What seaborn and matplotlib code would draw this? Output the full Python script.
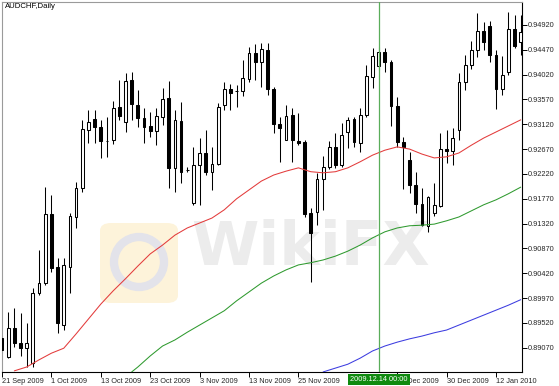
import matplotlib
matplotlib.use("Agg")
import matplotlib.pyplot as plt
import matplotlib.transforms as mtransforms
from matplotlib.patches import FancyBboxPatch, Ellipse
import numpy as np
import pandas as pd
import seaborn as sns

# ---------------- data ----------------
chart_title = "AUDCHF,Daily"

opens = [0.8925, 0.8890, 0.8943, 0.8916, 0.8906, 0.8879, 0.9006, 0.9024, 0.9149, 0.9053,
         0.8948, 0.9053, 0.9144, 0.9197, 0.9302, 0.9322, 0.9307, 0.9282, 0.9284, 0.9343,
         0.9316, 0.9392, 0.9347, 0.9323, 0.9309, 0.9300, 0.9325, 0.9360, 0.9233, 0.9318,
         0.9229, 0.9169, 0.9238, 0.9260, 0.9226, 0.9240, 0.9347, 0.9376, 0.9372, 0.9372,
         0.9394, 0.9441, 0.9425, 0.9447, 0.9376, 0.9313, 0.9284, 0.9329, 0.9282, 0.9280,
         0.9151, 0.9153, 0.9213, 0.9235, 0.9271, 0.9238, 0.9298, 0.9322, 0.9278, 0.9329,
         0.9398, 0.9418, 0.9443, 0.9425, 0.9345, 0.9280, 0.9247, 0.9202, 0.9168, 0.9128,
         0.9151, 0.9164, 0.9267, 0.9264, 0.9302, 0.9389, 0.9420, 0.9447, 0.9481, 0.9490,
         0.9438, 0.9376, 0.9407, 0.9485, 0.9461]
highs = [0.8930, 0.8972, 0.8979, 0.8970, 0.8952, 0.9015, 0.9084, 0.9198, 0.9184, 0.9070,
         0.9070, 0.9151, 0.9207, 0.9320, 0.9338, 0.9338, 0.9320, 0.9325, 0.9354, 0.9392,
         0.9405, 0.9407, 0.9374, 0.9342, 0.9334, 0.9342, 0.9378, 0.9391, 0.9338, 0.9352,
         0.9235, 0.9271, 0.9287, 0.9302, 0.9271, 0.9351, 0.9389, 0.9385, 0.9383, 0.9429,
         0.9452, 0.9458, 0.9459, 0.9459, 0.9380, 0.9325, 0.9347, 0.9342, 0.9333, 0.9284,
         0.9160, 0.9224, 0.9255, 0.9282, 0.9296, 0.9314, 0.9325, 0.9325, 0.9342, 0.9420,
         0.9450, 0.9452, 0.9450, 0.9429, 0.9362, 0.9289, 0.9262, 0.9226, 0.9197, 0.9182,
         0.9206, 0.9296, 0.9302, 0.9305, 0.9405, 0.9438, 0.9463, 0.9514, 0.9497, 0.9499,
         0.9447, 0.9436, 0.9516, 0.9510, 0.9510]
lows = [0.8897, 0.8888, 0.8908, 0.8892, 0.8872, 0.8872, 0.9003, 0.9021, 0.9044, 0.8934,
        0.8939, 0.9006, 0.9124, 0.9189, 0.9278, 0.9278, 0.9251, 0.9253, 0.9276, 0.9320,
        0.9298, 0.9320, 0.9307, 0.9278, 0.9289, 0.9274, 0.9311, 0.9197, 0.9189, 0.9206,
        0.9226, 0.9166, 0.9166, 0.9220, 0.9193, 0.9238, 0.9338, 0.9338, 0.9343, 0.9363,
        0.9389, 0.9392, 0.9380, 0.9365, 0.9296, 0.9244, 0.9283, 0.9244, 0.9274, 0.9144,
        0.9026, 0.9129, 0.9157, 0.9231, 0.9233, 0.9235, 0.9269, 0.9271, 0.9262, 0.9325,
        0.9378, 0.9410, 0.9407, 0.9309, 0.9271, 0.9195, 0.9187, 0.9151, 0.9128, 0.9117,
        0.9146, 0.9162, 0.9242, 0.9238, 0.9284, 0.9374, 0.9412, 0.9434, 0.9447, 0.9425,
        0.9340, 0.9365, 0.9401, 0.9450, 0.9438]
closes = [0.8903, 0.8943, 0.8916, 0.8906, 0.8916, 0.9006, 0.9024, 0.9149, 0.9052, 0.8952,
          0.9057, 0.9146, 0.9197, 0.9304, 0.9316, 0.9307, 0.9282, 0.9282, 0.9342, 0.9327,
          0.9391, 0.9349, 0.9323, 0.9307, 0.9300, 0.9327, 0.9358, 0.9233, 0.9320, 0.9226,
          0.9229, 0.9238, 0.9260, 0.9226, 0.9240, 0.9343, 0.9376, 0.9369, 0.9372, 0.9396,
          0.9441, 0.9425, 0.9449, 0.9376, 0.9313, 0.9305, 0.9327, 0.9284, 0.9278, 0.9149,
          0.9115, 0.9213, 0.9235, 0.9271, 0.9238, 0.9293, 0.9320, 0.9280, 0.9329, 0.9400,
          0.9436, 0.9443, 0.9425, 0.9345, 0.9280, 0.9271, 0.9202, 0.9168, 0.9129, 0.9180,
          0.9166, 0.9267, 0.9264, 0.9287, 0.9389, 0.9420, 0.9447, 0.9481, 0.9461, 0.9438,
          0.9376, 0.9401, 0.9485, 0.9454, 0.9479]

red_ma_bar = list(range(2, 85, 2))
red_ma = [0.8865, 0.8872, 0.8885, 0.8897, 0.8906, 0.8932, 0.8959, 0.8986, 0.9010, 0.9032,
          0.9055, 0.9077, 0.9093, 0.9111, 0.9124, 0.9133, 0.9142, 0.9157, 0.9177, 0.9193,
          0.9209, 0.9220, 0.9227, 0.9233, 0.9226, 0.9224, 0.9226, 0.9233, 0.9244, 0.9256,
          0.9265, 0.9271, 0.9267, 0.9258, 0.9251, 0.9253, 0.9260, 0.9274, 0.9287, 0.9298,
          0.9309, 0.9320]
green_ma_bar = [21] + list(range(22, 85, 2))
green_ma = [0.8863, 0.8872, 0.8892, 0.8910, 0.8921, 0.8935, 0.8948, 0.8961, 0.8974, 0.8992,
            0.9008, 0.9024, 0.9037, 0.9048, 0.9057, 0.9061, 0.9066, 0.9073, 0.9082, 0.9093,
            0.9106, 0.9117, 0.9124, 0.9128, 0.9129, 0.9131, 0.9137, 0.9144, 0.9155, 0.9166,
            0.9175, 0.9186, 0.9198]
blue_ma_bar = list(range(52, 85, 2))
blue_ma = [0.8863, 0.8870, 0.8877, 0.8888, 0.8901, 0.8910, 0.8917, 0.8923, 0.8928, 0.8934,
           0.8939, 0.8948, 0.8957, 0.8966, 0.8975, 0.8984, 0.8994]

date_tick_bars = [0, 8, 16, 24, 32, 40, 48, 64, 72, 80]
date_tick_labels = ["21 Sep 2009", "1 Oct 2009", "13 Oct 2009", "23 Oct 2009", "3 Nov 2009",
                    "13 Nov 2009", "25 Nov 2009", "17 Dec 2009", "30 Dec 2009",
                    "12 Jan 2010"]
price_ticks = [0.89070, 0.89520, 0.89970, 0.90420, 0.90870, 0.91320, 0.91770, 0.92220,
               0.92670, 0.93120, 0.93570, 0.94020, 0.94470, 0.94920]

cursor_bar = 61
cursor_label = "2009.12.14 00:00"
watermark = "WikiFX"

# ---------------- style ----------------
sns.set_style("white")
plt.rcParams["font.family"] = ["Liberation Sans", "DejaVu Sans"]

W, H = 559, 386
fig = plt.figure(figsize=(W / 100, H / 100), dpi=100)
fig.patch.set_facecolor("white")
left_px, right_px, top_px, bot_px = 1.7, 521.7, 1.7, 372.0
ax = fig.add_axes([left_px / W, 1 - bot_px / H, (right_px - left_px) / W, (bot_px - top_px) / H])
ax.set_facecolor("white")

# watermark (behind everything)
logo = FancyBboxPatch((100 / W, 1 - 303 / H), 78 / W, 80 / H,
                      boxstyle="round,pad=0.0,rounding_size=0.02",
                      transform=fig.transFigure, facecolor="#fdf3da", edgecolor="none",
                      zorder=0.2)
ax.add_artist(logo)
ring = Ellipse((139 / W, 1 - 262 / H), 50 / W, 50 / H, transform=fig.transFigure,
               facecolor="none", edgecolor="#e3e3ea", linewidth=6, zorder=0.3)
ax.add_artist(ring)
ax.text(0.555, 0.355, watermark, transform=fig.transFigure, ha="center", va="center",
        fontsize=44, fontweight="bold", family="DejaVu Sans", color="#ececec", zorder=0.4)

n = len(opens)
idx = np.arange(n)
o = np.array(opens); c = np.array(closes); hi = np.array(highs); lo = np.array(lows)
up = c >= o

# wicks
ax.vlines(idx, lo, hi, color="black", linewidth=0.75, zorder=2)
# bodies
body_bottom = np.minimum(o, c)
body_height = np.abs(c - o)
ax.bar(idx[up], body_height[up], bottom=body_bottom[up], width=0.45,
       color="white", edgecolor="black", linewidth=0.75, zorder=3)
ax.bar(idx[~up], body_height[~up], bottom=body_bottom[~up], width=0.45,
       color="black", edgecolor="black", linewidth=0.75, zorder=3)

# moving averages via seaborn
df_red = pd.DataFrame({"bar": red_ma_bar, "ma": red_ma})
df_green = pd.DataFrame({"bar": green_ma_bar, "ma": green_ma})
df_blue = pd.DataFrame({"bar": blue_ma_bar, "ma": blue_ma})
sns.lineplot(data=df_red, x="bar", y="ma", ax=ax, color="#e33b3b", linewidth=0.75, zorder=4)
sns.lineplot(data=df_green, x="bar", y="ma", ax=ax, color="#2f9a2f", linewidth=0.75, zorder=4)
sns.lineplot(data=df_blue, x="bar", y="ma", ax=ax, color="#3c3ce0", linewidth=0.75, zorder=4)

# crosshair
ax.axvline(cursor_bar, color="#5aad5a", linewidth=0.9, zorder=5)

# limits
ax.set_xlim(-0.05, 84.16)
ax.set_ylim(0.88629, 0.95342)
ax.set_xlabel("")
ax.set_ylabel("")

# spines
for s in ["left", "top"]:
    ax.spines[s].set_color("#9a9a9a")
    ax.spines[s].set_linewidth(0.8)
for s in ["right", "bottom"]:
    ax.spines[s].set_color("black")
    ax.spines[s].set_linewidth(0.8)

# y axis on right
ax.yaxis.tick_right()
ax.set_yticks(price_ticks)
ax.set_yticklabels([f"{p:.5f}" for p in price_ticks])
ax.tick_params(axis="y", which="major", direction="out", length=3.5, width=0.7,
               color="black", labelsize=5.3, pad=1, left=False, right=True)

# x axis
ax.set_xticks(date_tick_bars)
ax.set_xticklabels(date_tick_labels)
ax.tick_params(axis="x", which="major", direction="out", length=3.5, width=0.7,
               color="black", labelsize=5.3, pad=1, bottom=True)
for lab in ax.get_xticklabels():
    lab.set_horizontalalignment("left")

# cursor date label
trans = mtransforms.blended_transform_factory(ax.transData, ax.transAxes)
ax.text(cursor_bar, -0.0115, cursor_label, transform=trans, ha="center", va="top",
        fontsize=5.3, color="white", zorder=10, clip_on=False,
        bbox=dict(boxstyle="square,pad=0.3", facecolor="#0f8a0f", edgecolor="none"))

# title
fig.text(5 / W, 1 - 3 / H, chart_title, ha="left", va="top", fontsize=5.6, color="black")

fig.savefig("out.png", dpi=100, facecolor="white")
